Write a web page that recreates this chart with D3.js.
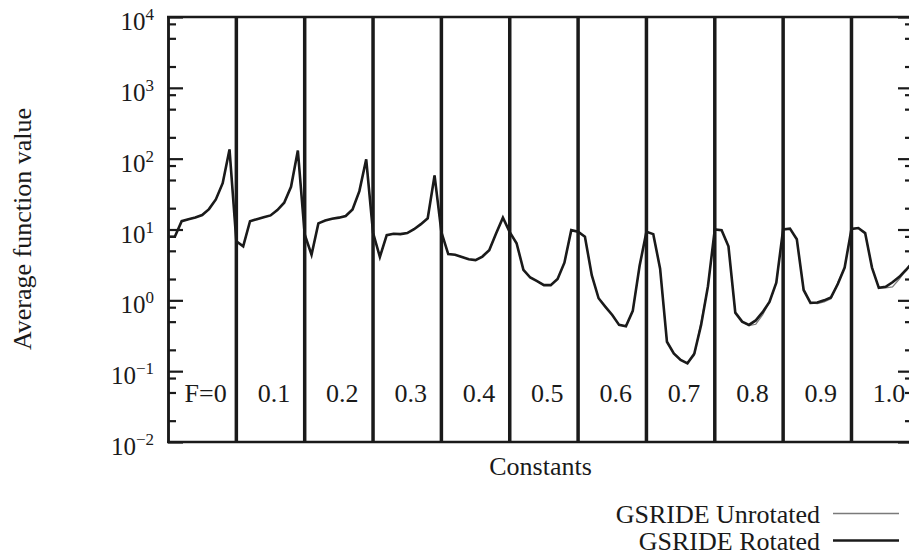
<!DOCTYPE html>
<html>
<head>
<meta charset="utf-8">
<script src="https://cdn.jsdelivr.net/npm/d3@7"></script>
<style>
  html, body { margin: 0; padding: 0; background: #fff; }
  svg { display: block; }
  text { font-family: "Liberation Serif", "Times New Roman", serif; fill: #1a1a1a; }
</style>
</head>
<body>
<svg id="chart" width="909" height="558"></svg>
<script>
// Section labels (crossover constant F), ten parameter settings per section
const sections = ["F=0", "0.1", "0.2", "0.3", "0.4", "0.5", "0.6", "0.7", "0.8", "0.9", "1.0"];
const pointsPerSection = 10;

// Average function value, GSRIDE on the rotated problem
const rotated = [
  7.9, 7.9, 13.1, 14.0, 14.8, 16.0, 19.4, 26.6, 45, 135,
  6.8, 5.8, 13.1, 14.0, 14.9, 15.8, 18.8, 23.9, 40, 130,
  8.5, 4.4, 12.2, 13.4, 14.2, 14.7, 15.5, 19.2, 34.8, 98,
  9.0, 4.1, 8.3, 8.7, 8.6, 8.9, 10.1, 11.9, 14.4, 58,
  9.2, 4.5, 4.4, 4.1, 3.8, 3.7, 4.15, 5.1, 8.8, 14.7,
  9.2, 6.4, 2.7, 2.1, 1.87, 1.64, 1.64, 2.0, 3.4, 9.8,
  9.3, 7.9, 2.27, 1.07, 0.81, 0.62, 0.45, 0.43, 0.71, 3.07,
  9.3, 8.6, 2.8, 0.26, 0.178, 0.144, 0.129, 0.176, 0.45, 1.58,
  10.0, 9.8, 5.8, 0.67, 0.5, 0.45, 0.52, 0.68, 0.95, 1.78,
  10.0, 10.3, 7.3, 1.4, 0.92, 0.93, 1.0, 1.1, 1.7, 2.9,
  10.2, 10.5, 8.9, 2.9, 1.5, 1.55, 1.8, 2.15, 2.7, 3.5
];

// Average function value, GSRIDE on the unrotated problem
const unrotated = [
  7.9, 7.9, 13.1, 14.0, 14.8, 16.0, 19.4, 26.6, 45, 135,
  6.8, 5.8, 13.1, 14.0, 14.9, 15.8, 18.8, 23.9, 40, 130,
  8.5, 4.4, 12.2, 13.4, 14.2, 14.7, 15.5, 19.2, 34.8, 98,
  9.0, 4.1, 8.3, 8.7, 8.6, 8.9, 10.1, 11.9, 14.4, 58,
  9.2, 4.5, 4.4, 4.1, 3.8, 3.7, 4.15, 5.1, 8.8, 14.7,
  9.2, 6.4, 2.7, 2.1, 1.87, 1.64, 1.64, 2.0, 3.4, 9.8,
  9.3, 7.9, 2.27, 1.07, 0.81, 0.62, 0.45, 0.43, 0.71, 3.07,
  9.3, 8.6, 2.8, 0.26, 0.178, 0.144, 0.13, 0.166, 0.5, 1.58,
  10.0, 9.8, 5.8, 0.67, 0.5, 0.44, 0.46, 0.62, 0.95, 1.78,
  10.0, 10.3, 7.3, 1.4, 0.92, 0.9, 0.95, 1.05, 1.8, 2.9,
  10.2, 10.5, 8.9, 2.9, 1.5, 1.5, 1.55, 2.0, 2.7, 3.5
];

// Decade exponents for the y axis and the minor tick multipliers
const yExponents = [-2, -1, 0, 1, 2, 3, 4];
const minorMultipliers = [2, 5, 8];

const legendLabels = ["GSRIDE Unrotated", "GSRIDE Rotated"];

const svg = d3.select("#chart");
const ink = "#1a1a1a";

const n = sections.length * pointsPerSection;
const x = d3.scaleLinear().domain([0, n - 1]).range([168, 913]);
const y = d3.scaleLog().domain([1e-2, 1e4]).range([442, 17]);

const majors = yExponents.map(e => Math.pow(10, e));
const minors = [];
yExponents.slice(0, -1).forEach(e => minorMultipliers.forEach(m => minors.push(m * Math.pow(10, e))));

// Left and right axes: major and minor ticks pointing inward
function drawAxis(gen, xpos, vals, size, width) {
  const g = svg.append("g")
    .attr("transform", `translate(${xpos},0)`)
    .call(gen(y).tickValues(vals).tickSize(-size).tickSizeOuter(0).tickFormat(""));
  g.select(".domain").attr("stroke", ink).attr("stroke-width", 2.5);
  g.selectAll(".tick line").attr("stroke", ink).attr("stroke-width", width);
  return g;
}
drawAxis(d3.axisLeft, x.range()[0], majors, 15, 2.2);
drawAxis(d3.axisLeft, x.range()[0], minors, 8, 2.2);
drawAxis(d3.axisRight, x.range()[1], majors, 15, 2.2);
drawAxis(d3.axisRight, x.range()[1], minors, 8, 2.2);

// Top and bottom frame
[y.range()[1], y.range()[0]].forEach(yy => {
  svg.append("line")
    .attr("x1", x.range()[0] - 1).attr("x2", x.range()[1] + 1)
    .attr("y1", yy).attr("y2", yy)
    .attr("stroke", ink).attr("stroke-width", 2.4);
});

// y tick labels as 10 with a superscript exponent
const labels = svg.append("g").attr("text-anchor", "end");
yExponents.forEach(e => {
  const t = labels.append("text")
    .attr("x", 154)
    .attr("y", y(Math.pow(10, e)) + 13)
    .style("font-size", "25px");
  t.append("tspan").text("10");
  t.append("tspan")
    .attr("dy", -10)
    .style("font-size", "17px")
    .text(e < 0 ? "\u2212" + Math.abs(e) : String(e));
});

// Section separators
d3.range(1, sections.length).forEach(k => {
  svg.append("line")
    .attr("x1", x(k * pointsPerSection)).attr("x2", x(k * pointsPerSection))
    .attr("y1", y.range()[1]).attr("y2", y.range()[0])
    .attr("stroke", ink).attr("stroke-width", 3.5);
});

// Section labels
svg.append("g").selectAll("text")
  .data(sections)
  .join("text")
  .attr("x", (d, k) => x(k * pointsPerSection + 5.5))
  .attr("y", 402)
  .attr("text-anchor", "middle")
  .style("font-size", "26px")
  .text(d => d);

// Data lines
const line = d3.line().x((d, i) => x(i)).y(d => y(d));
svg.append("path")
  .datum(unrotated)
  .attr("d", line)
  .attr("fill", "none")
  .attr("stroke", "#7a7a7a")
  .attr("stroke-width", 1.2);
svg.append("path")
  .datum(rotated)
  .attr("d", line)
  .attr("fill", "none")
  .attr("stroke", ink)
  .attr("stroke-width", 2.6)
  .attr("stroke-linejoin", "miter");

// Axis titles
svg.append("text")
  .attr("x", (x.range()[0] + x.range()[1]) / 2)
  .attr("y", 475)
  .attr("text-anchor", "middle")
  .style("font-size", "26px")
  .text("Constants");

svg.append("text")
  .attr("transform", `translate(31,229) rotate(-90)`)
  .attr("text-anchor", "middle")
  .style("font-size", "26px")
  .text("Average function value");

// Legend
const legend = svg.append("g");
const legendStyles = [
  { stroke: "#7a7a7a", width: 1.3 },
  { stroke: ink, width: 2.6 }
];
legendLabels.forEach((lab, i) => {
  const yy = 523 + i * 27;
  legend.append("text")
    .attr("x", 820)
    .attr("y", yy)
    .attr("text-anchor", "end")
    .style("font-size", "26px")
    .text(lab);
  legend.append("line")
    .attr("x1", 833).attr("x2", 899)
    .attr("y1", yy - 9.5).attr("y2", yy - 9.5)
    .attr("stroke", legendStyles[i].stroke)
    .attr("stroke-width", legendStyles[i].width);
});
</script>
</body>
</html>
